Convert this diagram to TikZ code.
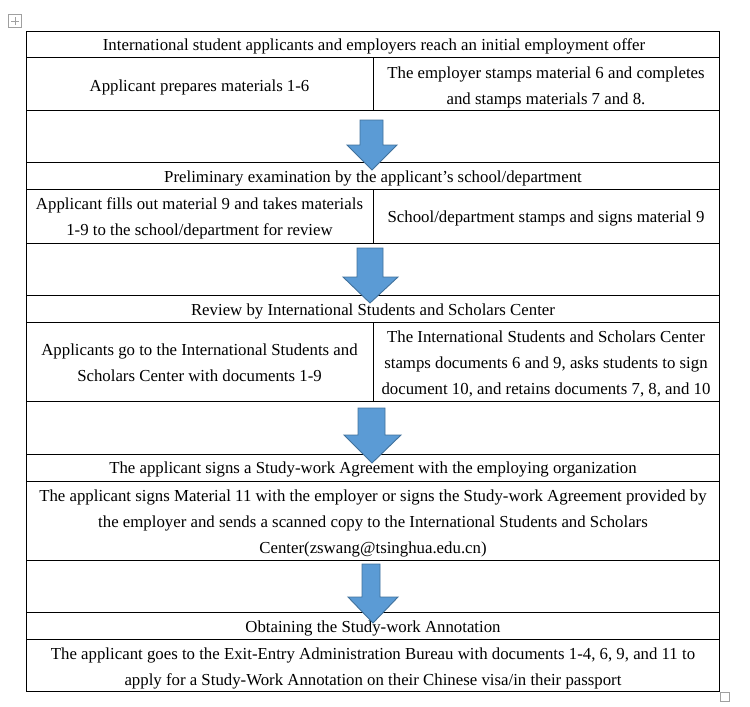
\documentclass[tikz,border=0pt]{standalone}
\usepackage{fontspec}
\setmainfont{Liberation Serif}
\usetikzlibrary{positioning}
\definecolor{arrowfill}{HTML}{5B9BD5}
\definecolor{arrowline}{HTML}{41719C}
\definecolor{handle}{HTML}{A0A0A0}
\tikzset{
  rowbox/.style={draw=black, line width=1pt, anchor=north west, inner sep=0pt,
    minimum width=693pt, outer sep=0pt},
  txt/.style={anchor=base, inner sep=0pt, font=\fontsize{16.8}{26}\selectfont},
  divider/.style={draw=black, line width=1pt},
  blockarrow/.style={fill=arrowfill, draw=arrowline, line width=0.9pt, line join=miter},
  uibox/.style={draw=handle, line width=0.6pt, fill=white}
}
\begin{document}
\begin{tikzpicture}[x=1pt, y=-1pt]
\useasboundingbox (0,0) rectangle (750,707);
% table rows
\node[rowbox, minimum height=26pt] (r1) at (26,31) {};
\node[rowbox, minimum height=53pt] (r2) at (26,57) {};
\node[rowbox, minimum height=52pt] (r3) at (26,110) {};
\node[rowbox, minimum height=27pt] (r4) at (26,162) {};
\node[rowbox, minimum height=54pt] (r5) at (26,189) {};
\node[rowbox, minimum height=52pt] (r6) at (26,243) {};
\node[rowbox, minimum height=27pt] (r7) at (26,295) {};
\node[rowbox, minimum height=79pt] (r8) at (26,322) {};
\node[rowbox, minimum height=53pt] (r9) at (26,401) {};
\node[rowbox, minimum height=27pt] (r10) at (26,454) {};
\node[rowbox, minimum height=79pt] (r11) at (26,481) {};
\node[rowbox, minimum height=52pt] (r12) at (26,560) {};
\node[rowbox, minimum height=27pt] (r13) at (26,612) {};
\node[rowbox, minimum height=52pt] (r14) at (26,639) {};
% column dividers
\draw[divider] ([xshift=347pt]r2.north west) -- ([xshift=347pt]r2.south west);
\draw[divider] ([xshift=347pt]r5.north west) -- ([xshift=347pt]r5.south west);
\draw[divider] ([xshift=347pt]r8.north west) -- ([xshift=347pt]r8.south west);
% texts
\node[txt] (t1) at (374,50) {International student applicants and employers reach an initial employment offer};
\node[txt] (t2l) at (199.5,91) {Applicant prepares materials 1-6};
\node[txt] (t2ra) at (546,78) {The employer stamps material 6 and completes};
\node[txt] (t2rb) at (546,104) {and stamps materials 7 and 8.};
\node[txt] (t4) at (373,182) {Preliminary examination by the applicant’s school/department};
\node[txt] (t5la) at (199.5,209) {Applicant fills out material 9 and takes materials};
\node[txt] (t5lb) at (199.5,235) {1-9 to the school/department for review};
\node[txt] (t5r) at (546,222) {School/department stamps and signs material 9};
\node[txt] (t7) at (373,315) {Review by International Students and Scholars Center};
\node[txt] (t8la) at (199.5,355) {Applicants go to the International Students and};
\node[txt] (t8lb) at (199.5,381) {Scholars Center with documents 1-9};
\node[txt] (t8ra) at (546,342) {The International Students and Scholars Center};
\node[txt] (t8rb) at (546,368) {stamps documents 6 and 9, asks students to sign};
\node[txt] (t8rc) at (546,394) {document 10, and retains documents 7, 8, and 10};
\node[txt] (t10) at (373,473) {The applicant signs a Study-work Agreement with the employing organization};
\node[txt] (t11a) at (373,501) {The applicant signs Material 11 with the employer or signs the Study-work Agreement provided by};
\node[txt] (t11b) at (373,527) {the employer and sends a scanned copy to the International Students and Scholars};
\node[txt] (t11c) at (373,553) {Center(zswang@tsinghua.edu.cn)};
\node[txt] (t13) at (373,632) {Obtaining the Study-work Annotation};
\node[txt] (t14a) at (373,659) {The applicant goes to the Exit-Entry Administration Bureau with documents 1-4, 6, 9, and 11 to};
\node[txt] (t14b) at (373,685) {apply for a Study-Work Annotation on their Chinese visa/in their passport};
% block arrows
\draw[blockarrow] (360,120) -- (383,120) -- (383,145) -- (397,145) -- (372,170) -- (347,145) -- (360,145) -- cycle;
\draw[blockarrow] (357,248) -- (383,248) -- (383,277) -- (398,277) -- (370,303) -- (343,277) -- (357,277) -- cycle;
\draw[blockarrow] (358,408) -- (385,408) -- (385,435) -- (401,435) -- (372,463) -- (344,435) -- (358,435) -- cycle;
\draw[blockarrow] (362,564) -- (380,564) -- (380,597) -- (398,597) -- (373,623) -- (348,597) -- (362,597) -- cycle;
% editor handles
\node[uibox, minimum size=13pt, inner sep=0pt] (movehandle) at (15,21) {};
\draw[handle, line width=0.5pt] ([yshift=-4pt]movehandle.center) -- ([yshift=4pt]movehandle.center);
\draw[handle, line width=0.5pt] ([xshift=-4pt]movehandle.center) -- ([xshift=4pt]movehandle.center);
\node[uibox, minimum size=9pt, inner sep=0pt] (sizehandle) at (725,697) {};
\end{tikzpicture}
\end{document}
